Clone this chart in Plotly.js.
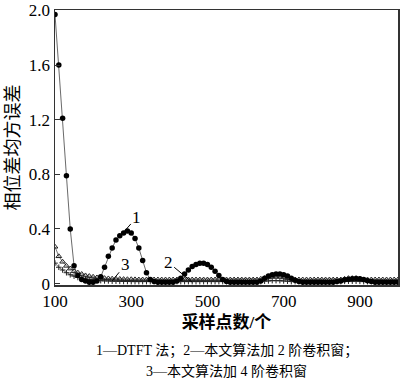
<!DOCTYPE html>
<html><head><meta charset="utf-8">
<script src="https://cdn.plot.ly/plotly-3.0.1.min.js"></script>
<style>body{margin:0;padding:0;background:#fff}#chart{width:400px;height:381px}</style>
</head><body><div id="chart"></div>
<script>
const samples = [100,110,120,130,140,150,160,170,180,190,200,210,220,230,240,250,260,270,280,290,300,310,320,330,340,350,360,370,380,390,400,410,420,430,440,450,460,470,480,490,500,510,520,530,540,550,560,570,580,590,600,610,620,630,640,650,660,670,680,690,700,710,720,730,740,750,760,770,780,790,800,810,820,830,840,850,860,870,880,890,900,910,920,930,940,950,960,970,980,990,1000];
const dtft = [1.97,1.6,1.21,0.79,0.40,0.13,0.06,0.03,0.02,0.01,0.01,0.02,0.05,0.12,0.20,0.26,0.32,0.35,0.37,0.385,0.37,0.33,0.26,0.17,0.08,0.03,0.015,0.01,0.01,0.01,0.01,0.01,0.02,0.04,0.07,0.10,0.125,0.14,0.15,0.15,0.14,0.12,0.09,0.06,0.03,0.015,0.01,0.01,0.01,0.01,0.01,0.01,0.01,0.01,0.02,0.04,0.055,0.065,0.07,0.07,0.065,0.055,0.04,0.025,0.015,0.01,0.01,0.01,0.01,0.01,0.01,0.01,0.01,0.01,0.015,0.02,0.028,0.033,0.036,0.037,0.035,0.03,0.022,0.015,0.01,0.01,0.01,0.01,0.01,0.01,0.01];
const conv2 = [0.27,0.2,0.16,0.13,0.11,0.09,0.08,0.07,0.06,0.055,0.05,0.045,0.042,0.04,0.038,0.036,0.035,0.034,0.033,0.032,0.032,0.031,0.03,0.03,0.03,0.03,0.03,0.03,0.03,0.03,0.03,0.03,0.03,0.03,0.03,0.03,0.03,0.03,0.03,0.03,0.03,0.03,0.03,0.03,0.03,0.03,0.03,0.03,0.03,0.03,0.03,0.03,0.03,0.03,0.035,0.04,0.045,0.05,0.05,0.05,0.045,0.04,0.035,0.03,0.03,0.03,0.03,0.03,0.03,0.03,0.03,0.03,0.03,0.03,0.03,0.03,0.035,0.04,0.04,0.04,0.035,0.03,0.03,0.03,0.03,0.03,0.03,0.03,0.03,0.03,0.03];
const conv4 = [0.15,0.12,0.1,0.08,0.065,0.055,0.045,0.04,0.035,0.03,0.028,0.025,0.022,0.02,0.02,0.018,0.018,0.017,0.016,0.016,0.015,0.015,0.015,0.015,0.015,0.015,0.015,0.015,0.015,0.015,0.015,0.015,0.015,0.015,0.015,0.015,0.015,0.015,0.015,0.015,0.015,0.015,0.015,0.015,0.015,0.015,0.015,0.015,0.015,0.015,0.015,0.015,0.015,0.015,0.015,0.018,0.02,0.022,0.022,0.022,0.02,0.018,0.015,0.015,0.015,0.015,0.015,0.015,0.015,0.015,0.015,0.015,0.015,0.015,0.015,0.015,0.017,0.018,0.018,0.018,0.017,0.015,0.015,0.015,0.015,0.015,0.015,0.015,0.015,0.015,0.015];
const xTicks = [100,300,500,700,900];
const yTicks = [0,0.4,0.8,1.2,1.6,2.0];
const yTickText = ['0','0.4','0.8','1.2','1.6','2.0'];

const serif = 'Liberation Serif, Times New Roman, serif';
const cjk = 'Liberation Serif, Noto Sans CJK SC, serif';

const traces = [
  {x: samples, y: conv4, mode: 'lines+markers', line:{color:'#555', width:0.8},
   marker:{symbol:'cross-thin-open', size:4, color:'#222', line:{width:1, color:'#222'}}},
  {x: samples, y: conv2, mode: 'lines+markers', line:{color:'#555', width:0.8},
   marker:{symbol:'triangle-up-open', size:5, color:'#222', line:{width:1, color:'#222'}}},
  {x: samples, y: dtft, mode: 'lines+markers', line:{color:'#444', width:0.8},
   marker:{symbol:'circle', size:5.5, color:'#000'}}
];

const layout = {
  width: 400, height: 381,
  margin: {l:55, r:2, t:10, b:96},
  paper_bgcolor:'#fff', plot_bgcolor:'#fff',
  showlegend: false,
  font: {family: serif, size: 16, color:'#000'},
  xaxis: {range:[100,1000], tickvals:xTicks, ticktext:xTicks.map(String),
    showgrid:false, zeroline:false, showline:true, mirror:true, linecolor:'#333', linewidth:1.5,
    ticks:'', tickfont:{family:serif, size:17}, ticklabeloverflow:'allow',
    title:{text:'<b>采样点数/个</b>', font:{family:cjk, size:17}, standoff:6}},
  yaxis: {range:[-0.01,2.003], tickvals:yTicks, ticktext:yTickText,
    showgrid:false, zeroline:false, showline:true, mirror:true, linecolor:'#333', linewidth:1.5,
    ticks:'inside', ticklen:5, tickcolor:'#333', tickfont:{family:serif, size:17}, ticklabeloverflow:'allow',
    title:{text:'相位差均方误差', font:{family:cjk, size:18}, standoff:4}},
  annotations: [
    {x:278, y:0.37, xref:'x', yref:'y', text:'1', showarrow:true, arrowhead:0, arrowwidth:1, arrowcolor:'#000', ax:14, ay:-16, font:{family:serif, size:17}},
    {x:460, y:0.01, xref:'x', yref:'y', text:'2', showarrow:true, arrowhead:0, arrowwidth:1, arrowcolor:'#000', ax:-24, ay:-20, font:{family:serif, size:17}},
    {x:250, y:0.02, xref:'x', yref:'y', text:'3', showarrow:true, arrowhead:0, arrowwidth:1, arrowcolor:'#000', ax:13, ay:-16, font:{family:serif, size:17}},
    {x:0.5, y:0, xref:'paper', yref:'paper', xanchor:'center', yanchor:'middle', yshift:-65, showarrow:false,
     text:'1—DTFT 法；2—本文算法加 2 阶卷积窗；', font:{family:cjk, size:14}},
    {x:0.5, y:0, xref:'paper', yref:'paper', xanchor:'center', yanchor:'middle', yshift:-86, showarrow:false,
     text:'3—本文算法加 4 阶卷积窗', font:{family:cjk, size:14}}
  ]
};
Plotly.newPlot('chart', traces, layout, {displayModeBar:false, staticPlot:true});
</script></body></html>
